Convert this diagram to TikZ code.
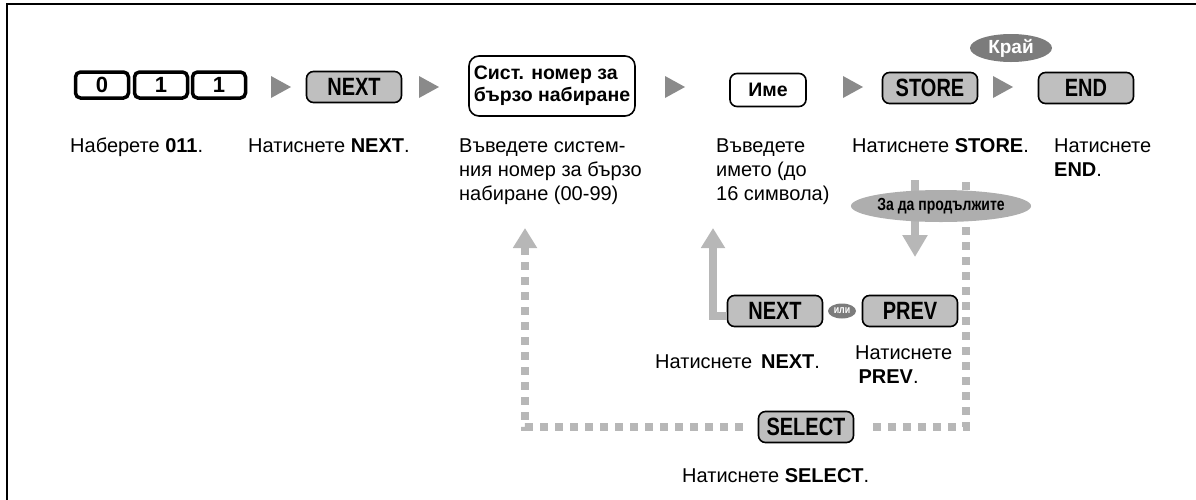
\documentclass[tikz,border=0pt]{standalone}
\usepackage{fontspec}
\setmainfont{Liberation Sans}
\newfontfamily\keyfont[FakeStretch=0.8]{Liberation Sans}
\definecolor{keygray}{HTML}{BFBFBF}
\definecolor{flowgray}{HTML}{B7B7B7}
\definecolor{markgray}{HTML}{8A8A8A}
\definecolor{darkgray}{HTML}{7C7C7C}
\usetikzlibrary{shapes.geometric,arrows.meta}

\tikzset{
  key/.style={draw, fill=keygray, line width=1.6pt, rounded corners=7pt,
    minimum width=95pt, minimum height=31pt, inner sep=0pt,
    font=\keyfont\fontsize{25}{25}\selectfont\bfseries},
  digit/.style={draw, fill=white, line width=3.5pt, rounded corners=5pt,
    minimum width=53pt, minimum height=26pt, inner sep=0pt,
    font=\fontsize{22}{22}\selectfont\bfseries},
  field/.style={draw, fill=white, line width=1.6pt, rounded corners=10pt,
    inner sep=0pt, align=left, font=\fontsize{19.5}{22}\selectfont\bfseries},
  txt/.style={anchor=base west, inner sep=0pt, align=left,
    font=\fontsize{20}{24}\selectfont},
  flow/.style={flowgray, line width=8pt},
  dashflow/.style={flow, dash pattern=on 8pt off 7pt},
  uptip/.style={-{Triangle[width=23pt,length=20pt]}}
}

\begin{document}
\begin{tikzpicture}[x=1pt,y=-1pt]
\useasboundingbox (0,0) rectangle (1196,499);
\draw[line width=2.5pt] (7,4) rectangle (1240,540);

% top row
\node[digit] (d0) at (102,85) {0};
\node[digit] (d1) at (161,85) {1};
\node[digit] (d2) at (219,85) {1};
\node[key] (next) at (354,87) {NEXT};
\node[field, minimum width=166pt, minimum height=60pt] (sysno) at (552,86) {Сист. номер за\\бързо набиране};
\node[field, minimum width=76pt, minimum height=33pt, rounded corners=7pt] (name) at (768,90) {Име};
\node[key] (store) at (930,88) {STORE};
\node[key] (endkey) at (1086,88) {END};
\node[ellipse, fill=darkgray, minimum width=82pt, minimum height=28pt, inner sep=0pt,
  text=white, font=\fontsize{19}{19}\selectfont\bfseries] (krai) at (1011,48) {Край};
\foreach \x in {281,429,675,853,1003}
  \fill[markgray] (\x-10,76) -- (\x+10,87) -- (\x-10,98) -- cycle;

% labels (base = last line)
\node[txt] (l011) at (70,152) {Наберете \textbf{011}.};
\node[txt] (lnext) at (248,152) {Натиснете \textbf{NEXT}.};
\node[txt] (lsys) at (459,200) {Въведете систем-\\ния номер за бързо\\набиране (00-99)};
\node[txt] (lname) at (716,200) {Въведете\\името (до\\16 символа)};
\node[txt] (lstore) at (852,152) {Натиснете \textbf{STORE}.};
\node[txt] (lend) at (1054,176) {Натиснете\\\textbf{END}.};

% lower part
\node[key] (nextb) at (775,311) {NEXT};
\node[ellipse, fill=darkgray, minimum width=28pt, minimum height=15pt, inner sep=0pt,
  text=white, font=\keyfont\fontsize{11}{11}\selectfont\bfseries] (ili) at (842,311) {или};
\node[key] (prev) at (910,311) {PREV};
\node[key] (select) at (806,427) {SELECT};
\node[txt] (lnextb) at (655,368) {Натиснете \,\textbf{NEXT}.};
\node[txt] (lprev) at (855,383) {Натиснете\\\,\textbf{PREV}.};
\node[txt] (lselect) at (682,482) {Натиснете \textbf{SELECT}.};

\coordinate (downtop) at (915,180);
\coordinate (downtip) at (915,257);
\coordinate (looptop) at (966,182);
\coordinate (backtip) at (525,228);
\coordinate (nametip) at (713,228);

\draw[flow, -{Triangle[width=24pt,length=22pt]}] (downtop) -- (downtip);
\draw[dashflow] (looptop) |- ([xshift=13pt]select.east);
\draw[dashflow, uptip] ([xshift=-15pt]select.west) -| (backtip);
\draw[flow, uptip] ([yshift=-5pt]nextb.west) -| (nametip);

\node[ellipse, fill=flowgray!95!black, minimum width=152pt, minimum height=32pt, inner sep=0pt,
  font=\keyfont\fontsize{17.5}{17.5}\selectfont\bfseries] (cont) at (941,206) {За да продължите};
\end{tikzpicture}
\end{document}
